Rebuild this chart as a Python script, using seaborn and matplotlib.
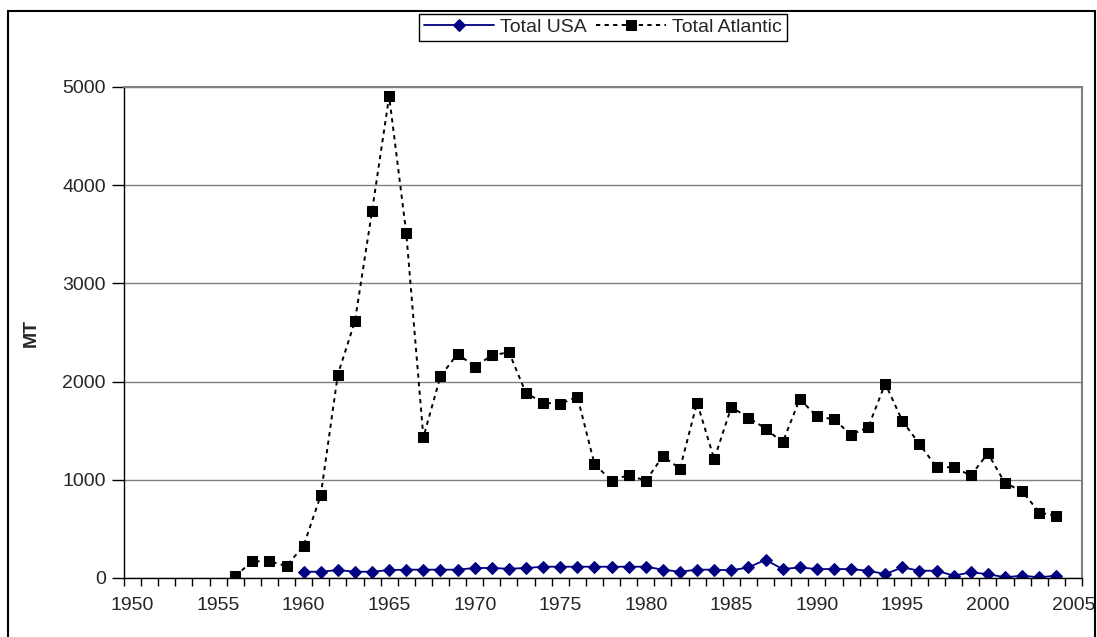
import numpy as np
import pandas as pd
import seaborn as sns
import matplotlib.pyplot as plt
from matplotlib.patches import Rectangle
from matplotlib.ticker import MultipleLocator, FixedLocator

# data (MT)
atl_years = list(range(1956, 2005))
atl_vals = [20, 170, 170, 122, 329, 842, 2072, 2616, 3737, 4905,
            3512, 1433, 2055, 2283, 2153, 2266, 2300, 1882, 1787, 1770,
            1848, 1162, 989, 1050, 989, 1240, 1114, 1787, 1209, 1740,
            1633, 1522, 1380, 1822, 1646, 1616, 1458, 1535, 1980, 1599,
            1364, 1128, 1128, 1044, 1269, 966, 886, 667, 633]

usa_years = list(range(1960, 2005))
usa_vals = [64, 64, 81, 64, 64, 81, 85, 85, 85, 85,
            102, 102, 94, 102, 115, 115, 115, 115, 115, 115,
            115, 85, 64, 85, 85, 78, 108, 185, 91, 108,
            91, 91, 91, 74, 40, 108, 74, 74, 24, 57,
            40, 7, 24, 7, 24]

year_labels = list(range(1950, 2006, 5))

sns.set_style("white")
plt.rcParams['font.family'] = ['Liberation Sans', 'DejaVu Sans']

fig = plt.figure(figsize=(10.97, 6.37), dpi=100)
ax = fig.add_axes([124/1097, 59/637, 958/1097, 491/637])

sns.lineplot(x=usa_years, y=usa_vals, ax=ax, color='#000080', lw=1.3,
             marker='D', markersize=6.5, markeredgecolor='#000080',
             label='Total USA')
sns.lineplot(x=atl_years, y=atl_vals, ax=ax, color='black', lw=1.4,
             marker='s', markersize=6.5, markeredgecolor='black',
             label='Total Atlantic')
ax.lines[1].set_linestyle((0, (2.2, 2.2)))

ax.set_xlim(1949.5, 2005.5)
ax.set_ylim(0, 5000)
ax.xaxis.set_major_locator(FixedLocator(year_labels))
ax.xaxis.set_minor_locator(FixedLocator(np.arange(1949.5, 2006, 1)))
ax.yaxis.set_major_locator(MultipleLocator(1000))
ax.tick_params(axis='x', which='both', bottom=True)
ax.tick_params(axis='y', which='major', left=True)
ax.tick_params(axis='x', which='major', length=0, labelsize=14, pad=14)
ax.tick_params(axis='x', which='minor', length=6, width=1, direction='out', color='black')
ax.tick_params(axis='y', which='major', length=9, width=1, direction='out',
               color='black', labelsize=14, pad=4)
ax.yaxis.grid(True, color='#808080', lw=1)
ax.set_axisbelow(True)

for side in ['left', 'bottom']:
    ax.spines[side].set_color('black')
    ax.spines[side].set_linewidth(1)
for side in ['top', 'right']:
    ax.spines[side].set_color('#808080')
    ax.spines[side].set_linewidth(1.5)

ax.set_xlabel('')
ax.set_ylabel('MT', fontsize=14, fontweight='bold')
ax.yaxis.set_label_coords(-84/958, 0.5)

h, l = ax.get_legend_handles_labels()
ax.get_legend().remove()
leg = fig.legend(h, l, loc='center', bbox_to_anchor=(603/1097, 1 - 27.5/637),
                 ncol=2, fontsize=14, frameon=True, fancybox=False,
                 edgecolor='black', framealpha=1, handlelength=3.6,
                 handletextpad=0.3, columnspacing=0.5, borderpad=0.25,
                 borderaxespad=0)
leg.get_frame().set_linewidth(1)

# outer chart border
fig.patches.append(Rectangle((8/1097, -0.01), 1087/1097, 1.01 - 10.5/637,
                             transform=fig.transFigure, fill=False,
                             edgecolor='black', lw=1.5))

fig.savefig('out.png', dpi=100)
